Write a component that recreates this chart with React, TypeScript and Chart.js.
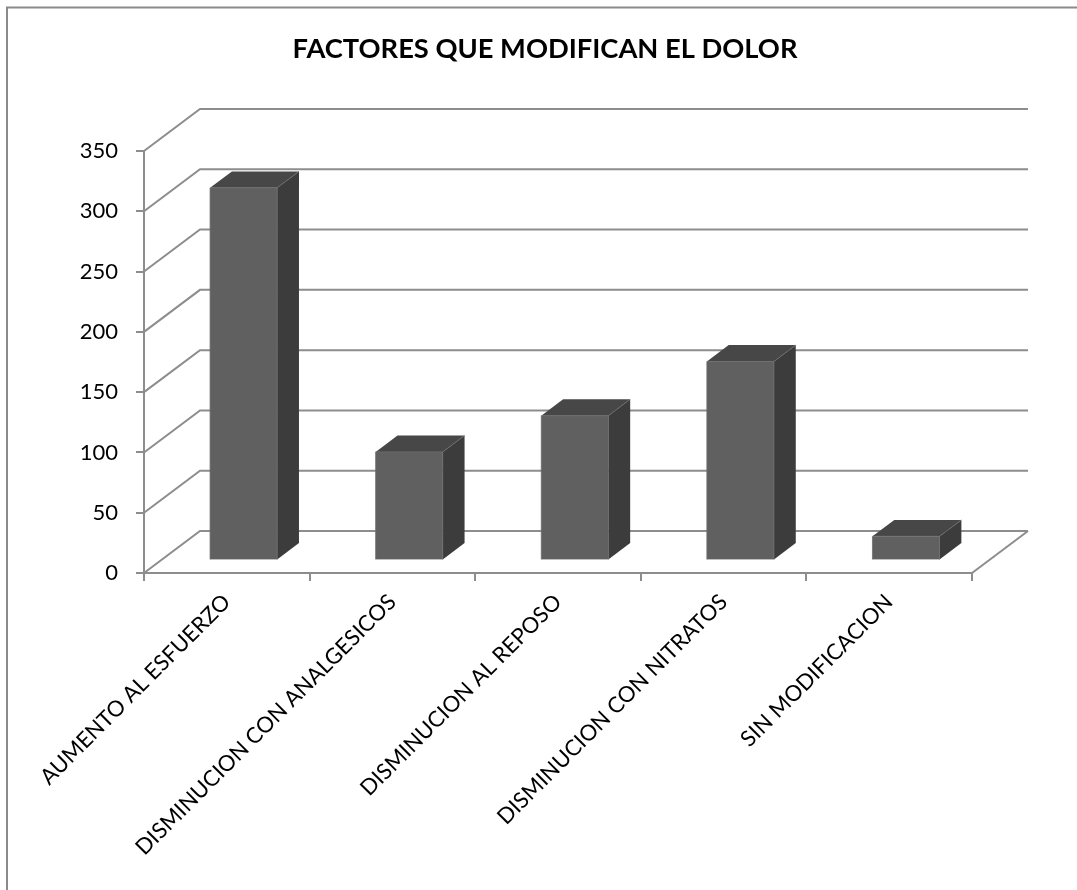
import React, { useEffect, useRef } from "react";
import { Chart, registerables } from "chart.js";

Chart.register(...registerables);

// Chart content
const chartTitle = "FACTORES QUE MODIFICAN EL DOLOR";
const categories = [
  "AUMENTO AL ESFUERZO",
  "DISMINUCION CON ANALGESICOS",
  "DISMINUCION AL REPOSO",
  "DISMINUCION CON NITRATOS",
  "SIN MODIFICACION",
];
const casos = [309, 90, 120, 165, 20];
const yTickValues = [0, 50, 100, 150, 200, 250, 300, 350];

// Styling / 3D geometry
const FONT = "Lato";
const GRID_COLOR = "#8d8d8d";
const FRONT_COLOR = "#606060";
const TOP_COLOR = "#474747";
const SIDE_COLOR = "#3c3c3c";
const DEPTH_X = 56;
const DEPTH_Y = -42;
const BAR_FRONT = 0.3;
const BAR_BACK = 0.69;

const box3d = {
  id: "box3d",
  beforeDraw(chart: any) {
    const { ctx, width, height } = chart;
    ctx.save();
    ctx.fillStyle = "#ffffff";
    ctx.fillRect(0, 0, width, height);
    ctx.strokeStyle = "#8a8a8a";
    ctx.lineWidth = 2;
    ctx.beginPath();
    ctx.moveTo(7, height);
    ctx.lineTo(7, 7.5);
    ctx.lineTo(width, 7.5);
    ctx.stroke();
    // chart title, centred on the whole frame
    ctx.fillStyle = "#000000";
    ctx.font = `bold 27.3px ${FONT}`;
    ctx.textAlign = "center";
    ctx.textBaseline = "alphabetic";
    ctx.fillText(chartTitle, 545, 58);
    ctx.restore();
  },
  beforeDatasetsDraw(chart: any) {
    const { ctx, chartArea, scales } = chart;
    const { left, right, bottom } = chartArea;
    const y = scales.y;
    ctx.save();
    ctx.strokeStyle = GRID_COLOR;
    ctx.lineWidth = 2;
    ctx.lineJoin = "miter";
    y.ticks.forEach((t: any) => {
      const py = y.getPixelForValue(t.value);
      ctx.beginPath();
      ctx.moveTo(left, py);
      ctx.lineTo(left + DEPTH_X, py + DEPTH_Y);
      ctx.lineTo(right + DEPTH_X, py + DEPTH_Y);
      ctx.stroke();
    });
    ctx.beginPath();
    ctx.moveTo(right, bottom);
    ctx.lineTo(right + DEPTH_X, bottom + DEPTH_Y);
    ctx.stroke();
    ctx.restore();
  },
  afterDatasetsDraw(chart: any) {
    const { ctx } = chart;
    const meta = chart.getDatasetMeta(0);
    const fx = DEPTH_X * BAR_FRONT;
    const fy = DEPTH_Y * BAR_FRONT;
    const dx = DEPTH_X * (BAR_BACK - BAR_FRONT);
    const dy = DEPTH_Y * (BAR_BACK - BAR_FRONT);
    ctx.save();
    meta.data.forEach((bar: any) => {
      const { x, y, base, width } = bar.getProps(["x", "y", "base", "width"], true);
      const l = x - width / 2 + fx;
      const r = x + width / 2 + fx;
      const t = y + fy;
      const b = base + fy;
      ctx.strokeStyle = "rgba(110,110,110,0.8)";
      ctx.lineWidth = 1;
      // front face
      ctx.fillStyle = FRONT_COLOR;
      ctx.fillRect(l, t, r - l, b - t);
      // top face
      ctx.fillStyle = TOP_COLOR;
      ctx.beginPath();
      ctx.moveTo(l, t);
      ctx.lineTo(l + dx, t + dy);
      ctx.lineTo(r + dx, t + dy);
      ctx.lineTo(r, t);
      ctx.closePath();
      ctx.fill();
      // side face
      ctx.fillStyle = SIDE_COLOR;
      ctx.beginPath();
      ctx.moveTo(r, t);
      ctx.lineTo(r + dx, t + dy);
      ctx.lineTo(r + dx, b + dy);
      ctx.lineTo(r, b);
      ctx.closePath();
      ctx.fill();
      // faint edges
      ctx.beginPath();
      ctx.moveTo(l, b);
      ctx.lineTo(l, t);
      ctx.lineTo(r, t);
      ctx.lineTo(r, b);
      ctx.moveTo(r, t);
      ctx.lineTo(r + dx, t + dy);
      ctx.stroke();
    });
    ctx.restore();
  },
};

export default function App() {
  const canvasRef = useRef<HTMLCanvasElement | null>(null);

  useEffect(() => {
    const canvas = canvasRef.current;
    if (!canvas) return;
    const chart = new Chart(canvas, {
      type: "bar",
      data: {
        labels: categories,
        datasets: [
          {
            label: "Casos",
            data: casos,
            backgroundColor: "rgba(0,0,0,0)",
            borderWidth: 0,
            categoryPercentage: 1,
            barPercentage: 0.405,
          },
        ],
      },
      plugins: [box3d],
      options: {
        animation: false,
        responsive: false,
        devicePixelRatio: 1,
        layout: { padding: { left: 0, right: 105, top: 151, bottom: 0 } },
        plugins: {
          legend: { display: false },
          tooltip: { enabled: false },
          title: { display: false },
        },
        scales: {
          x: {
            type: "category",
            offset: true,
            grid: {
              display: true,
              offset: true,
              drawOnChartArea: false,
              drawTicks: true,
              tickLength: 8,
              color: GRID_COLOR,
              lineWidth: 2,
            },
            border: { display: true, color: GRID_COLOR, width: 2 },
            ticks: {
              color: "#000000",
              font: { family: FONT, size: 22 },
              minRotation: 45,
              maxRotation: 45,
              autoSkip: false,
              padding: 8,
            },
            afterFit(scale: any) {
              scale.height = 317;
            },
          },
          y: {
            min: 0,
            max: 350,
            grid: {
              display: true,
              drawOnChartArea: false,
              drawTicks: true,
              tickLength: 8,
              color: GRID_COLOR,
              lineWidth: 2,
            },
            border: { display: true, color: GRID_COLOR, width: 2 },
            ticks: {
              color: "#000000",
              font: { family: FONT, size: 22 },
              padding: 18,
            },
            afterBuildTicks(scale: any) {
              scale.ticks = yTickValues.map((v) => ({ value: v }));
            },
            afterFit(scale: any) {
              scale.width = 144;
            },
          },
        },
      },
    });
    return () => chart.destroy();
  }, []);

  return (
    <div style={{ position: "fixed", left: 0, top: 0, width: 1077, height: 890 }}>
      <canvas ref={canvasRef} width={1077} height={890} style={{ display: "block" }} />
    </div>
  );
}
